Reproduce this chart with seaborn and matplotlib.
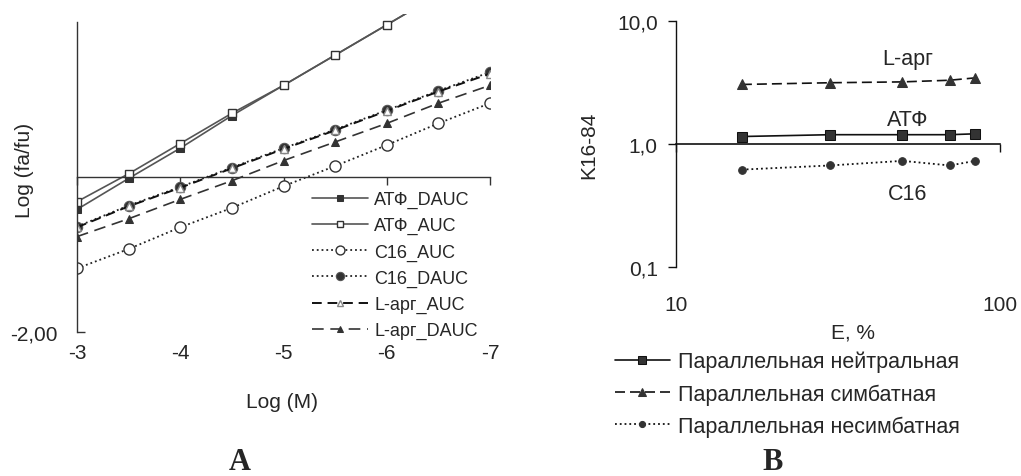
import matplotlib
matplotlib.use("Agg")
import matplotlib.pyplot as plt
import seaborn as sns
from matplotlib.ticker import NullLocator

# ---------------- data: panel A ----------------
log_m = [-3, -3.5, -4, -4.5, -5, -5.5, -6, -6.5, -7]
atf_dauc = [-0.42, -0.02, 0.37, 0.79, 1.18, 1.57, 1.96, 2.35, 2.74]
atf_auc = [-0.32, 0.04, 0.43, 0.82, 1.18, 1.57, 1.96, 2.35, 2.74]
c16_auc = [-1.18, -0.93, -0.65, -0.40, -0.12, 0.14, 0.41, 0.69, 0.95]
c16_dauc = [-0.64, -0.37, -0.13, 0.12, 0.37, 0.61, 0.86, 1.11, 1.35]
larg_auc = [-0.65, -0.38, -0.14, 0.11, 0.36, 0.60, 0.85, 1.10, 1.33]
larg_dauc = [-0.77, -0.54, -0.29, -0.05, 0.21, 0.45, 0.69, 0.95, 1.18]
a_names = ["АТФ_DAUC", "АТФ_AUC", "C16_AUC", "C16_DAUC", "L-арг_AUC", "L-арг_DAUC"]
a_xticks = [-3, -4, -5, -6, -7]
a_xticklabels = ["-3", "-4", "-5", "-6", "-7"]

# ---------------- data: panel B ----------------
e_pct = [16, 30, 50, 70, 84]
k_neutral = [1.15, 1.19, 1.19, 1.19, 1.21]
k_symb = [3.04, 3.14, 3.19, 3.29, 3.44]
k_nonsymb = [0.62, 0.67, 0.73, 0.67, 0.73]
b_names = ["Параллельная нейтральная", "Параллельная симбатная", "Параллельная несимбатная"]
b_series_labels = ["L-арг", "АТФ", "C16"]

sns.set_theme(style="white")
plt.rcParams["font.family"] = ["Liberation Sans", "DejaVu Sans"]
plt.rcParams["axes.unicode_minus"] = False

fig = plt.figure(figsize=(10.21, 4.77), dpi=100)
axA = fig.add_axes([77 / 1021, 1 - 333 / 477, 413 / 1021, 318 / 477])
axB = fig.add_axes([0.6618, 0.4375, 0.3176, 0.517])

# ---------------- panel A ----------------
a_styles = [
    dict(color="#555555", linestyle="-", lw=1.2, marker="s", ms=5.5, mfc="#333333", mec="#333333"),
    dict(color="#555555", linestyle="-", lw=1.2, marker="s", ms=6, mfc="white", mec="#333333", mew=1.0),
    dict(color="#222222", linestyle=":", lw=1.3, marker="o", ms=8, mfc="white", mec="#333333", mew=1.0),
    dict(color="#222222", linestyle=":", lw=1.3, marker="o", ms=7.5, mfc="#333333", mec="#555555"),
    dict(color="#111111", dashes=(5, 3), lw=1.4, marker="^", ms=5.5, mfc="white", mec="#888888", mew=1.0),
    dict(color="#333333", dashes=(7, 4), lw=1.2, marker="^", ms=5.5, mfc="#333333", mec="#333333"),
]
a_values = [atf_dauc, atf_auc, c16_auc, c16_dauc, larg_auc, larg_dauc]
for name, vals, st in zip(a_names, a_values, a_styles):
    sns.lineplot(x=log_m, y=vals, ax=axA, label=name, sort=False, **st)

axA.set_xlim(-3, -7)
axA.set_ylim(-2, 2.1)
for s in ("top", "right"):
    axA.spines[s].set_visible(False)
axA.spines["left"].set_color("#333333")
axA.spines["left"].set_linewidth(1.0)
axA.spines["left"].set_bounds(-2, 2)
axA.spines["bottom"].set_position(("data", 0))
axA.spines["bottom"].set_color("#333333")
axA.spines["bottom"].set_linewidth(1.0)
axA.set_xticks(a_xticks)
axA.tick_params(axis="x", bottom=True, direction="out", length=6, width=1,
                color="#333333", labelbottom=False)
axA.set_yticks([-2])
axA.set_yticklabels(["-2,00"])
axA.tick_params(axis="y", left=True, direction="in", length=6, width=1,
                color="#333333", labelsize=15, pad=14)
secA = axA.secondary_xaxis("bottom")
secA.set_xticks(a_xticks)
secA.set_xticklabels(a_xticklabels)
secA.tick_params(length=0, pad=8, labelsize=15)
secA.spines["bottom"].set_visible(False)
axA.set_xlabel("")
axA.set_ylabel("Log (fa/fu)", fontsize=15)
axA.yaxis.set_label_coords(-0.105, 0.51)
fig.text(282 / 1021, 1 - 403 / 477, "Log (M)", ha="center", va="center", fontsize=15)

axA.legend(loc="upper left", bbox_to_anchor=(312 / 1021, 1 - 192 / 477),
           bbox_transform=fig.transFigure, frameon=False, fontsize=13,
           handlelength=3.1, handletextpad=0.35, labelspacing=0.5,
           markerscale=0.8, borderpad=0, borderaxespad=0)

# ---------------- panel B ----------------
b_styles = [
    dict(color="#111111", linestyle="-", lw=1.2, marker="s", ms=6.5, mfc="#333333", mec="#111111"),
    dict(color="#111111", dashes=(6, 3), lw=1.2, marker="^", ms=7.5, mfc="#333333", mec="#333333"),
    dict(color="#111111", linestyle=":", lw=1.3, marker="o", ms=5.5, mfc="#333333", mec="#333333"),
]
b_values = [k_neutral, k_symb, k_nonsymb]
for name, vals, st in zip(b_names, b_values, b_styles):
    sns.lineplot(x=e_pct, y=vals, ax=axB, label=name, sort=False, **st)

axB.set_xscale("log")
axB.set_yscale("log")
axB.set_xlim(10, 100)
axB.set_ylim(0.1, 10)
for s in ("top", "right"):
    axB.spines[s].set_visible(False)
axB.spines["left"].set_color("#111111")
axB.spines["left"].set_linewidth(1.0)
axB.spines["bottom"].set_position(("data", 1))
axB.spines["bottom"].set_color("#111111")
axB.spines["bottom"].set_linewidth(1.2)
axB.set_xticks([10, 100])
axB.xaxis.set_minor_locator(NullLocator())
axB.tick_params(axis="x", bottom=True, direction="out", length=6, width=1,
                color="#111111", labelbottom=False)
axB.set_yticks([0.1, 1, 10])
axB.set_yticklabels(["0,1", "1,0", "10,0"])
axB.yaxis.set_minor_locator(NullLocator())
axB.tick_params(axis="y", left=True, direction="out", length=6, width=1,
                color="#111111", labelsize=15, pad=7)
secB = axB.secondary_xaxis("bottom")
secB.set_xticks([10, 100])
secB.set_xticklabels(["10", "100"])
secB.xaxis.set_minor_locator(NullLocator())
secB.tick_params(length=0, pad=20, labelsize=15)
secB.spines["bottom"].set_visible(False)
axB.set_xlabel("")
axB.set_ylabel("K16-84", fontsize=15)
axB.yaxis.set_label_coords(-0.24, 0.5)
fig.text(853 / 1021, 1 - 333 / 477, "E, %", ha="center", va="center", fontsize=15)

for txt, ypx in zip(b_series_labels, [60, 121, 195]):
    fig.text(908 / 1021, 1 - ypx / 477, txt, ha="center", va="center", fontsize=15.5)

hB, lB = axB.get_legend_handles_labels()
axB.get_legend().remove()
fig.legend(hB, lB, loc="upper left", bbox_to_anchor=(615 / 1021, 1 - 352 / 477),
           frameon=False, fontsize=15.5, handlelength=2.55, handletextpad=0.38,
           labelspacing=0.5, markerscale=0.8, borderpad=0, borderaxespad=0)

fig.text(240 / 1021, 1 - 463 / 477, "A", ha="center", va="center", fontsize=22,
         fontweight="bold", family=["Liberation Serif", "DejaVu Serif"])
fig.text(773 / 1021, 1 - 463 / 477, "B", ha="center", va="center", fontsize=22,
         fontweight="bold", family=["Liberation Serif", "DejaVu Serif"])

fig.savefig("out.png", dpi=100)
